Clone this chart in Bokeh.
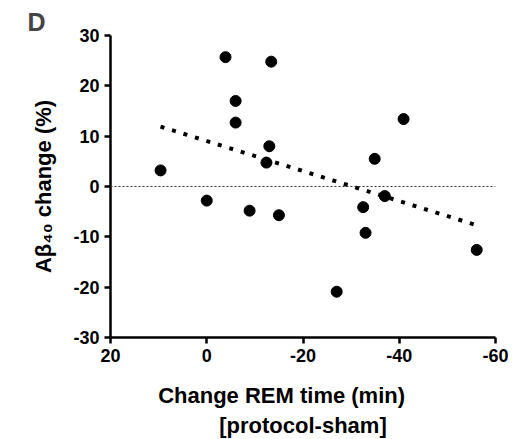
from bokeh.plotting import figure
from bokeh.models import Range1d, FixedTicker, Span
from bokeh.embed import file_html
from bokeh.resources import INLINE

# ---- data ----
rem_change = [9.6, -3.9, -6.0, -6.0, 0.0, -8.9, -13.4, -13.0, -12.4, -15.0,
              -34.9, -40.9, -37.0, -32.5, -33.0, -27.0, -56.1]
abeta_change = [3.2, 25.7, 17.0, 12.7, -2.8, -4.8, 24.8, 8.0, 4.75, -5.7,
                5.5, 13.4, -1.9, -4.1, -9.2, -20.9, -12.6]
fit_x = [9.6, -56.1]
fit_y = [11.9, -7.7]
x_ticks = [20, 0, -20, -40, -60]
x_tick_labels = ["20", "0", "-20", "-40", "-60"]
y_ticks = [-30, -20, -10, 0, 10, 20, 30]
y_tick_labels = ["-30", "-20", "-10", "0", "10", "20", "30"]

FONT = "Liberation Sans"

p = figure(width=518, height=439, frame_width=385, frame_height=302,
           output_backend="svg", toolbar_location=None,
           x_range=Range1d(20, -60), y_range=Range1d(-30, 30),
           min_border_left=110, min_border_right=23,
           min_border_top=35, min_border_bottom=102,
           title="D")
p.outline_line_color = None
p.grid.visible = False
p.background_fill_color = "white"
p.border_fill_color = "white"

p.title.text_font = FONT
p.title.text_font_size = "25px"
p.title.text_font_style = "bold"
p.title.align = "left"
p.title.offset = -83
p.title.standoff = 0

for ax in (p.xaxis[0], p.yaxis[0]):
    ax.axis_line_width = 2.5
    ax.axis_line_color = "black"
    ax.major_tick_line_width = 2.5
    ax.major_tick_line_color = "black"
    ax.major_tick_out = 6
    ax.major_tick_in = 0
    ax.minor_tick_line_color = None
    ax.major_label_text_font = FONT
    ax.major_label_text_font_style = "bold"
    ax.major_label_text_font_size = "18px"
    ax.major_label_text_color = "black"
    ax.major_label_standoff = 5
    ax.axis_label_text_font = FONT
    ax.axis_label_text_font_style = "bold"
    ax.axis_label_text_font_size = "22px"
    ax.axis_label_text_color = "black"

p.xaxis[0].ticker = FixedTicker(ticks=x_ticks)
p.yaxis[0].ticker = FixedTicker(ticks=y_ticks)
p.xaxis[0].major_label_overrides = dict(zip(x_ticks, x_tick_labels))
p.yaxis[0].major_label_overrides = dict(zip(y_ticks, y_tick_labels))

p.xaxis[0].axis_label = "Change REM time (min)" + "\u00a0" * 7 + "\n[protocol-sham]"
p.xaxis[0].axis_label_standoff = 18
p.yaxis[0].axis_label = "A\u03b2\u2084\u2080 change (%)"
p.yaxis[0].axis_label_standoff = 14

p.add_layout(Span(location=0, dimension="width", line_color="#333333",
                  line_width=1.2, line_dash="2 2"))

p.line(fit_x, fit_y, line_color="black", line_width=4, line_dash="4 8")
p.scatter(rem_change, abeta_change, size=11, color="black")

open("out.html", "w").write(file_html(p, INLINE))
